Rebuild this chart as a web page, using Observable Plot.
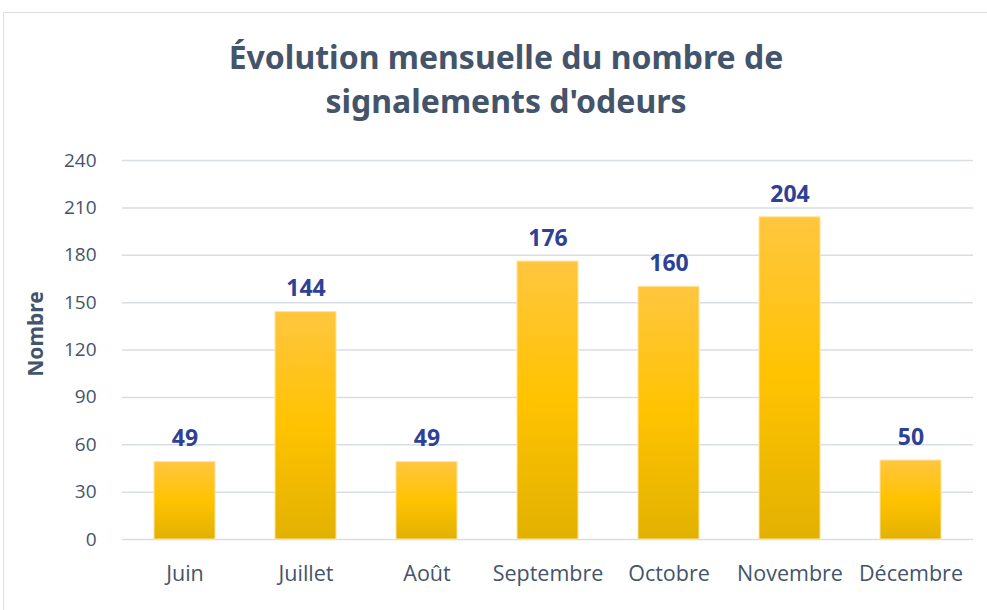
<!DOCTYPE html>
<html><head><meta charset="utf-8">
<script src="https://cdn.jsdelivr.net/npm/d3@7"></script>
<script src="https://cdn.jsdelivr.net/npm/@observablehq/plot@0.6"></script>
<style>
html,body{margin:0;padding:0;background:#fff;width:987px;height:610px;overflow:hidden;}
#frame{position:absolute;left:3px;top:12px;width:1100px;height:700px;border:1.5px solid #dde1e7;box-sizing:border-box;}
#title{position:absolute;left:0;top:35px;width:1012px;text-align:center;font-family:"Noto Sans",sans-serif;font-weight:700;font-size:32px;line-height:44px;color:#44546A;}
#chart{position:absolute;left:0;top:140px;}
#ylabel{position:absolute;left:35px;top:334px;transform:translate(-50%,-50%) rotate(-90deg);font-family:"Noto Sans",sans-serif;font-weight:700;font-size:21px;color:#44546A;white-space:nowrap;}
</style></head>
<body>
<div id="frame"></div>
<div id="title">Évolution mensuelle du nombre de<br>signalements d'odeurs</div>
<div id="ylabel">Nombre</div>
<div id="chart"></div>
<script>
const months = ["Juin","Juillet","Août","Septembre","Octobre","Novembre","Décembre"];
const counts = [49,144,49,176,160,204,50];
const yTicks = [0,30,60,90,120,150,180,210,240];

const data = months.map((m,i)=>({month:m, value:counts[i]}));

const plot = Plot.plot({
  width: 987,
  height: 470,
  marginTop: 20,
  marginBottom: 71,
  marginLeft: 122,
  marginRight: 14,
  style: {fontFamily: "'Open Sans', sans-serif", fontSize: "19px", color: "#44546A", background: "transparent"},
  x: {domain: months, paddingInner: 0.5, paddingOuter: 0.25, label: null},
  y: {domain: [0,240], ticks: yTicks, label: null, tickSize: 0, tickPadding: 26},
  marks: [
    Plot.gridY(yTicks, {stroke: "#d9dde5", strokeOpacity: 1, strokeWidth: 1.5}),
    Plot.axisX({tickSize: 0, tickPadding: 26, fontSize: 21.5, label: null}),
    Plot.barY(data, {x: "month", y: "value", fill: "url(#barGrad)", stroke: "#ffe39a", strokeWidth: 1}),
    Plot.text(data, {x: "month", y: "value", text: d => String(d.value), dy: -23, fill: "#2E4196", fontWeight: 700, fontSize: 23, fontFamily: "'Noto Sans', sans-serif"})
  ]
});

const ns = "http://www.w3.org/2000/svg";
const defs = document.createElementNS(ns, "defs");
const grad = document.createElementNS(ns, "linearGradient");
grad.setAttribute("id","barGrad");
grad.setAttribute("x1","0"); grad.setAttribute("y1","0");
grad.setAttribute("x2","0"); grad.setAttribute("y2","1");
[["0%","#FFC63F"],["50%","#FFC300"],["100%","#E2B100"]].forEach(([o,c])=>{
  const s = document.createElementNS(ns,"stop");
  s.setAttribute("offset",o); s.setAttribute("stop-color",c);
  grad.appendChild(s);
});
defs.appendChild(grad);
plot.insertBefore(defs, plot.firstChild);
document.getElementById("chart").appendChild(plot);
</script>
</body></html>
